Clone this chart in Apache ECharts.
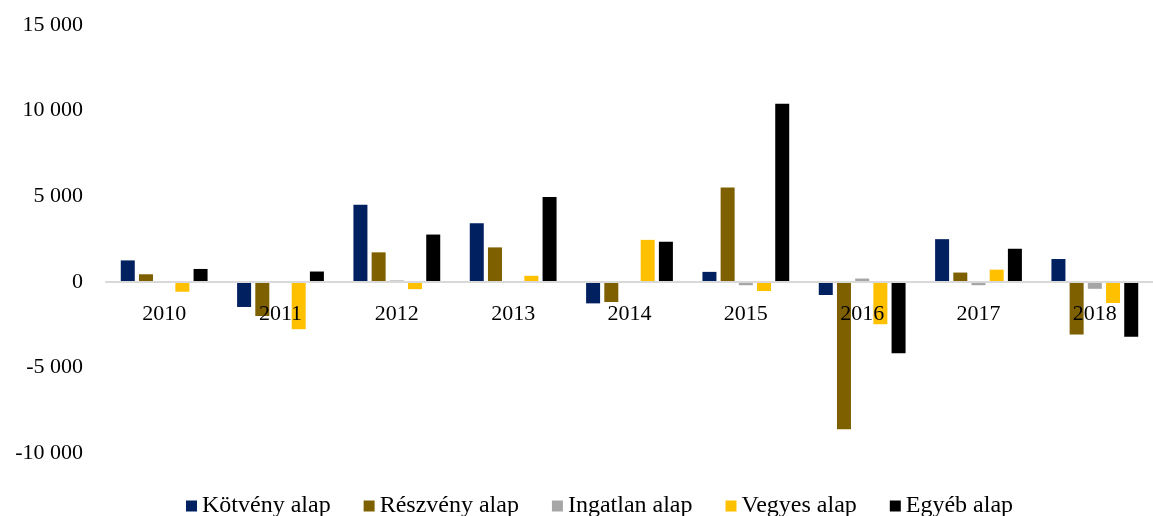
<!DOCTYPE html>
<html>
<head>
<meta charset="utf-8">
<script src="https://cdn.jsdelivr.net/npm/echarts@6/dist/echarts.min.js"></script>
<style>
  html, body { margin: 0; padding: 0; background: #fff; }
  #main { width: 1153px; height: 516px; }
</style>
</head>
<body>
<div id="main"></div>
<script>
// évek
const years = ['2010', '2011', '2012', '2013', '2014', '2015', '2016', '2017', '2018'];
// alaptípusonkénti értékek
const kotveny = [1250, -1470, 4500, 3420, -1260, 580, -770, 2490, 1330];
const reszveny = [440, -2000, 1720, 2010, -1180, 5510, -8610, 540, -3080];
const ingatlan = [30, -20, 80, 0, -20, -200, 190, -200, -410];
const vegyes = [-580, -2770, -430, 350, 2450, -540, -2480, 710, -1240];
const egyeb = [750, 600, 2760, 4950, 2340, 10400, -4180, 1930, -3210];
// y tengely
const yTicks = [-10000, -5000, 0, 5000, 10000, 15000];

const font = 'Liberation Serif';
const gridTop = 25;
const gridHeight = 428;
// x tengely a nullánál (címkékkel együtt)
const zeroOffset = -gridHeight * (0 - yTicks[0]) / (yTicks[yTicks.length - 1] - yTicks[0]);

const mk = (name, data, color) => ({
  name,
  type: 'bar',
  data,
  barWidth: 14,
  barGap: '30%',
  itemStyle: { color },
});

const option = {
  animation: false,
  textStyle: { fontFamily: font },
  grid: { left: 106, top: gridTop, width: 1062, height: gridHeight },
  legend: {
    left: 181,
    top: 489,
    itemWidth: 11,
    itemHeight: 11,
    itemGap: 33,
    icon: 'rect',
    textStyle: { fontFamily: font, fontSize: 24, color: '#000' },
  },
  xAxis: {
    type: 'category',
    data: years,
    offset: zeroOffset,
    z: 5,
    axisLine: { onZero: false, lineStyle: { color: '#d9d9d9', width: 2 } },
    axisTick: { show: false },
    axisLabel: { fontFamily: font, fontSize: 22, color: '#000', margin: 21 },
  },
  yAxis: {
    type: 'value',
    min: yTicks[0],
    max: yTicks[yTicks.length - 1],
    interval: 5000,
    splitLine: { show: false },
    axisLine: { show: false },
    axisTick: { show: false },
    axisLabel: {
      fontFamily: font,
      fontSize: 22,
      color: '#000',
      margin: 23,
      formatter: (v) => String(v).replace(/\B(?=(\d{3})+(?!\d))/g, ' '),
    },
  },
  series: [
    mk('Kötvény alap', kotveny, '#002060'),
    mk('Részvény alap', reszveny, '#7f6000'),
    mk('Ingatlan alap', ingatlan, '#a6a6a6'),
    mk('Vegyes alap', vegyes, '#ffc000'),
    mk('Egyéb alap', egyeb, '#000000'),
  ],
};

const myChart = echarts.init(document.getElementById('main'));
myChart.setOption(option);
</script>
</body>
</html>
